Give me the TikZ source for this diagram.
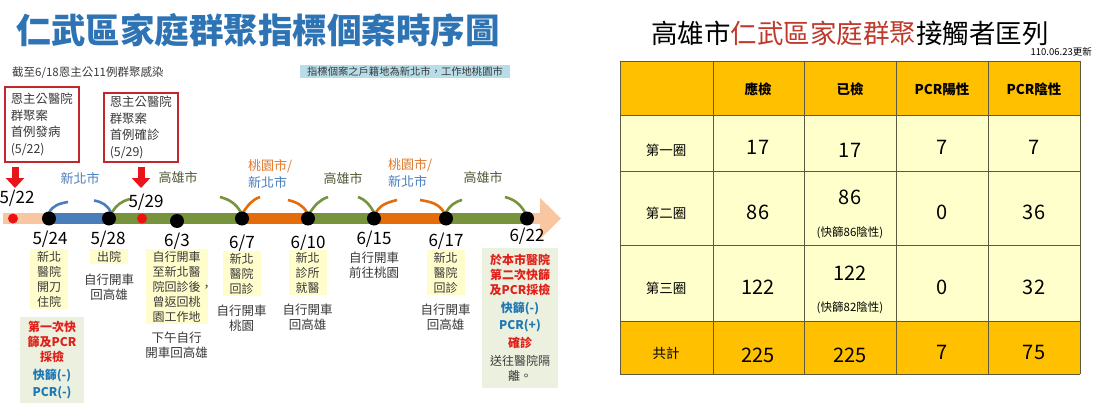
\documentclass[tikz,border=0pt]{standalone}
\usepackage{fontspec}
\setmainfont{Noto Sans CJK TC}
\usepackage{xcolor}
\definecolor{clTitle}{HTML}{2E74B5}
\definecolor{clText}{HTML}{3A3A3A}
\definecolor{clInfo}{HTML}{B7DDE8}
\definecolor{clBoxRed}{HTML}{C0282D}
\definecolor{clArrow}{HTML}{E8141B}
\definecolor{clRedDot}{HTML}{F01010}
\definecolor{clNewTaipei}{HTML}{4A7EBB}
\definecolor{clKaohsiung}{HTML}{77933C}
\definecolor{clKaoText}{HTML}{4E5A34}
\definecolor{clTaoyuan}{HTML}{E46C0A}
\definecolor{clTaoText}{HTML}{E07A2E}
\definecolor{clPeach}{HTML}{F8C6A0}
\definecolor{clDay}{HTML}{FFFDCC}
\definecolor{clTest}{HTML}{EBF1DE}
\definecolor{clAlarm}{HTML}{E0201B}
\definecolor{clResult}{HTML}{1F78B4}
\definecolor{clTabRed}{HTML}{C0392B}
\definecolor{clHead}{HTML}{FFC000}
\definecolor{clBody}{HTML}{FFFFCC}
\definecolor{clGrid}{HTML}{5E5A40}
\usepackage{tikz}
\usetikzlibrary{arrows.meta,positioning}
\tikzset{
  maintitle/.style={font=\fontsize{34.5}{40}\selectfont\bfseries, text=clTitle, inner sep=0pt},
  subtitle/.style={font=\fontsize{11.5}{13}\selectfont, text=clText, inner sep=0pt},
  infobox/.style={fill=clInfo, font=\fontsize{10.3}{12}\selectfont, text=clText,
                  inner xsep=7pt, inner ysep=1pt, minimum height=13pt},
  firstbox/.style={draw=clBoxRed, line width=1.6pt, anchor=north west, align=left,
                   inner xsep=6pt, inner ysep=3.5pt, font=\fontsize{12.4}{16.5}\selectfont, text=clText},
  lineseg/.style={line width=11pt},
  brk/.style={line width=2.6pt},
  evdot/.style={circle, fill=black, inner sep=0pt, minimum size=14pt},
  reddot/.style={circle, fill=clRedDot, inner sep=0pt, minimum size=10pt},
  alarm/.style={draw=clArrow, line width=7pt, -{Triangle[width=18pt,length=10pt]}},
  cityname/.style={font=\fontsize{13}{17}\selectfont, align=left, inner sep=0pt},
  datelbl/.style={font=\fontsize{17}{18}\selectfont, inner sep=0pt},
  daybox/.style={fill=clDay, anchor=north, align=center, inner xsep=7pt, inner ysep=2pt,
                 font=\fontsize{12}{15}\selectfont, text=clText},
  testbox/.style={fill=clTest, anchor=north, align=center, inner xsep=8pt, inner ysep=4pt,
                  font=\fontsize{12}{15}\selectfont, text=clText},
  note/.style={align=center, inner sep=0pt, font=\fontsize{12.5}{15}\selectfont, text=clText},
  gridline/.style={draw=clGrid, line width=0.8pt},
  tabtitle/.style={font=\fontsize{26.5}{30}\selectfont, inner sep=0pt},
  thead/.style={font=\fontsize{13.5}{16}\selectfont\bfseries, inner sep=0pt},
  tlabel/.style={font=\fontsize{13.5}{16}\selectfont, inner sep=0pt},
  tnum/.style={font=\fontsize{20}{22}\selectfont, inner sep=0pt},
  tsmall/.style={font=\fontsize{11.5}{13}\selectfont, inner sep=0pt},
}

\begin{document}
\begin{tikzpicture}[x=1pt, y=1pt]
  \fill[white] (0,0) rectangle (1100,-420);
  \useasboundingbox (0,0) rectangle (1100,-420);

  \node[maintitle] (title) at (258,-30) {仁武區家庭群聚指標個案時序圖};
  \node[subtitle, anchor=west] (upto) at (12,-73) {截至6/18恩主公11例群聚感染};
  \node[infobox] (info) at (405,-71.5) {指標個案之戶籍地為新北市，工作地桃園市};

  \node[firstbox, minimum height=75pt] (onset) at (4,-86) {恩主公醫院\\群聚案\\首例發病\\(5/22)};
  \node[firstbox] (confirm) at (103,-92) {恩主公醫院\\群聚案\\首例確診\\(5/29)};

  \coordinate (start) at (3,-218.5);
  \coordinate (t522) at (13,-218.5);
  \coordinate (t524) at (49,-218.5);
  \coordinate (t528) at (109,-218.5);
  \coordinate (t529) at (142,-218.5);
  \coordinate (t603) at (177,-221);
  \coordinate (t607) at (242,-218.5);
  \coordinate (t610) at (308,-218.5);
  \coordinate (t615) at (374,-218.5);
  \coordinate (t617) at (446,-218.5);
  \coordinate (t622) at (527,-218.5);
  \coordinate (tip) at (561,-218.5);

  \draw[lineseg, clPeach] (start) -- (t524);
  \draw[lineseg, clNewTaipei] (t524) -- (t528);
  \draw[lineseg, clKaohsiung] (t528) -- (t607);
  \draw[lineseg, clTaoyuan] (t607) -- (t610);
  \draw[lineseg, clKaohsiung] (t610) -- (t615);
  \draw[lineseg, clTaoyuan] (t615) -- (t617);
  \draw[lineseg, clKaohsiung] (t617) -- (t622);
  \draw[lineseg, clPeach, -{Triangle[width=40pt,length=21pt]}] (t622) -- (tip);

  \draw[brk, clNewTaipei] (t524) ++(0,5.5) to[out=65,in=190] ++(19,11);
  \draw[brk, clNewTaipei] (t528) ++(-15,18) to[out=-10,in=115] ++(17,-12);
  \draw[brk, clKaohsiung] (t528) ++(3,6) to[out=60,in=195] ++(18,13.5);
  \draw[brk, clKaohsiung] (t607) ++(-22,21.5) to[out=-15,in=120] ++(21,-15.5);
  \draw[brk, clTaoyuan] (t607) ++(1,6) to[out=55,in=200] ++(17,15.5);
  \draw[brk, clTaoyuan] (t610) ++(-20,18.5) to[out=-15,in=120] ++(19,-12.5);
  \draw[brk, clKaohsiung] (t610) ++(2,6) to[out=55,in=200] ++(18,15.5);
  \draw[brk, clKaohsiung] (t615) ++(-16,21.5) to[out=-20,in=120] ++(16,-15.5);
  \draw[brk, clTaoyuan] (t615) ++(2,6) to[out=60,in=195] ++(21,12.5);
  \draw[brk, clTaoyuan] (t617) ++(-26,18.5) to[out=-10,in=120] ++(24,-12.5);
  \draw[brk, clKaohsiung] (t617) ++(0,6) to[out=60,in=195] ++(16,12.5);
  \draw[brk, clKaohsiung] (t622) ++(-22,21.5) to[out=-15,in=120] ++(20,-15.5);

  \node[reddot] (d522) at (t522) {};
  \node[evdot] (d524) at (t524) {};
  \node[evdot] (d528) at (t528) {};
  \node[reddot] (d529) at (t529) {};
  \node[evdot] (d603) at (t603) {};
  \node[evdot] (d607) at (t607) {};
  \node[evdot] (d610) at (t610) {};
  \node[evdot] (d615) at (t615) {};
  \node[evdot] (d617) at (t617) {};
  \node[evdot] (d622) at (t622) {};

  \node[cityname, text=clNewTaipei] (c1) at (80,-178) {新北市};
  \node[cityname, text=clKaoText] (c2) at (178,-178) {高雄市};
  \node[cityname, anchor=west] (c3) at (248,-173.5) {\textcolor{clTaoText}{桃園市/}\\\textcolor{clNewTaipei}{新北市}};
  \node[cityname, text=clKaoText] (c4) at (343,-179) {高雄市};
  \node[cityname, anchor=west] (c5) at (388,-172.5) {\textcolor{clTaoText}{桃園市/}\\\textcolor{clNewTaipei}{新北市}};
  \node[cityname, text=clKaoText] (c6) at (483,-178) {高雄市};

  \coordinate (a522) at (15,-167);
  \coordinate (b522) at (15,-188);
  \coordinate (a529) at (141,-167);
  \coordinate (b529) at (141,-188);
  \draw[alarm] (a522) -- (b522);
  \draw[alarm] (a529) -- (b529);

  \node[datelbl] (l522) at (17,-198) {5/22};
  \node[datelbl] (l529) at (146,-202) {5/29};
  \node[datelbl] (l524) at (50,-239) {5/24};
  \node[datelbl] (l528) at (108,-239) {5/28};
  \node[datelbl] (l603) at (177,-241) {6/3};
  \node[datelbl] (l607) at (242,-243) {6/7};
  \node[datelbl] (l610) at (308,-243) {6/10};
  \node[datelbl] (l615) at (374,-239) {6/15};
  \node[datelbl] (l617) at (446,-241) {6/17};
  \node[datelbl] (l622) at (527,-236) {6/22};

  \node[daybox] (y524) at (49,-249) {新北\\醫院\\開刀\\住院};
  \node[testbox] (g524) at (52,-317) {\textcolor{clAlarm}{\textbf{第一次快}}\\\textcolor{clAlarm}{\textbf{篩及PCR}}\\\textcolor{clAlarm}{\textbf{採檢}}\\[3pt]\textcolor{clResult}{\textbf{快篩(-)}}\\[2pt]\textcolor{clResult}{\textbf{PCR(-)}}};
  \node[daybox] (y528) at (109,-249) {出院};
  \node[note, below=9pt of y528] (n528) {自行開車\\回高雄};
  \node[daybox] (y603) at (176.5,-249) {自行開車\\至新北醫\\院回診後\rlap{，}\\曾返回桃\\園工作地};
  \node[note, below=7pt of y603] (n603) {下午自行\\開車回高雄};
  \node[daybox] (y607) at (241.5,-251) {新北\\醫院\\回診};
  \node[note, below=8pt of y607] (n607) {自行開車\\桃園};
  \node[daybox] (y610) at (307.5,-250) {新北\\診所\\就醫};
  \node[note, below=8pt of y610] (n610) {自行開車\\回高雄};
  \node[note] (n615) at (374,-265.5) {自行開車\\前往桃園};
  \node[daybox] (y617) at (445.5,-250) {新北\\醫院\\回診};
  \node[note, below=8pt of y617] (n617) {自行開車\\回高雄};
  \node[testbox, inner ysep=6pt] (g622) at (520,-248) {\textcolor{clAlarm}{\textbf{於本市醫院}}\\\textcolor{clAlarm}{\textbf{第二次快篩}}\\\textcolor{clAlarm}{\textbf{及PCR採檢}}\\[3pt]\textcolor{clResult}{\textbf{快篩(-)}}\\[2pt]\textcolor{clResult}{\textbf{PCR(+)}}\\[3pt]\textcolor{clAlarm}{\textbf{確診}}\\[3pt]送往醫院隔\\離。};

  \node[tabtitle] (ttitle) at (850,-33) {高雄市\textcolor{clTabRed}{仁武區家庭群聚}接觸者匡列};
  \node[font=\fontsize{9.5}{11}\selectfont, anchor=east, inner sep=0pt] (upd) at (1092,-52) {110.06.23更新};

  \fill[clHead] (620,-61) rectangle (1080,-115);
  \fill[clBody] (620,-115) rectangle (1080,-321);
  \fill[clHead] (620,-321) rectangle (1080,-374);
  \foreach \x in {620,713,804,896,988,1080} \draw[gridline] (\x,-61) -- (\x,-374);
  \foreach \y in {61,115,171,245,321,374} \draw[gridline] (620,-\y) -- (1080,-\y);

  \node[thead] (hdue) at (758,-89) {應檢};
  \node[thead] (hdone) at (850,-89) {已檢};
  \node[thead] (hpos) at (942,-89) {PCR陽性};
  \node[thead] (hneg) at (1034,-89) {PCR陰性};

  \node[tlabel] (r1) at (666,-150) {第一圈};
  \node[tnum] (r1due) at (758,-147) {17};
  \node[tnum] (r1done) at (850,-150) {17};
  \node[tnum] (r1pos) at (942,-147) {7};
  \node[tnum] (r1neg) at (1034,-147) {7};

  \node[tlabel] (r2) at (666,-213) {第二圈};
  \node[tnum] (r2due) at (758,-212) {86};
  \node[tnum] (r2done) at (850,-197) {86};
  \node[tsmall] (r2rapid) at (850,-233) {(快篩86陰性)};
  \node[tnum] (r2pos) at (942,-212) {0};
  \node[tnum] (r2neg) at (1034,-212) {36};

  \node[tlabel] (r3) at (666,-288) {第三圈};
  \node[tnum] (r3due) at (758,-287) {122};
  \node[tnum] (r3done) at (850,-273) {122};
  \node[tsmall] (r3rapid) at (850,-308) {(快篩82陰性)};
  \node[tnum] (r3pos) at (942,-287) {0};
  \node[tnum] (r3neg) at (1034,-287) {32};

  \node[tlabel] (tot) at (666,-353) {共計};
  \node[tnum] (totdue) at (758,-355) {225};
  \node[tnum] (totdone) at (850,-355) {225};
  \node[tnum] (totpos) at (942,-352) {7};
  \node[tnum] (totneg) at (1034,-352) {75};
\end{tikzpicture}
\end{document}
